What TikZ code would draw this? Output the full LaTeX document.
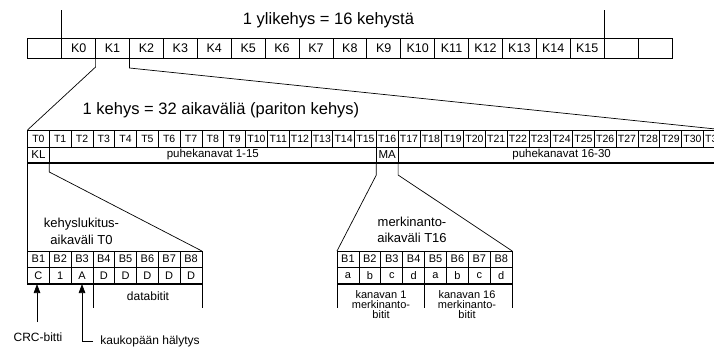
\documentclass[tikz,border=0pt]{standalone}
\usepackage{fontspec}
\setmainfont{Liberation Sans}
\usetikzlibrary{arrows.meta}
\begin{document}
\begin{tikzpicture}[x=1pt,y=-1pt,line width=0.7pt,
  cell/.style={draw,inner sep=0pt,outer sep=0pt,anchor=center},
  kcell/.style={cell,minimum width=33.9pt,minimum height=20pt,font=\fontsize{12.5}{14}\selectfont},
  tcell/.style={cell,minimum width=21.8pt,minimum height=17pt,font=\fontsize{10.5}{12}\selectfont},
  rcell/.style={cell,minimum height=16pt,font=\fontsize{11.5}{13}\selectfont},
  bcell/.style={cell,minimum width=21.8pt,minimum height=16pt,font=\fontsize{11}{12}\selectfont},
  vcell/.style={cell,minimum width=21.8pt,minimum height=17pt,font=\fontsize{11}{12}\selectfont},
  bigtext/.style={inner sep=0pt,font=\fontsize{16.5}{18}\selectfont},
  midtext/.style={inner sep=0pt,align=center,font=\fontsize{13}{16.5}\selectfont},
  smalltext/.style={inner sep=0pt,align=center,font=\fontsize{11}{10}\selectfont},
  labtext/.style={inner sep=0pt,font=\fontsize{12}{14}\selectfont},
  thickline/.style={line width=1.2pt},
  arr/.style={-{Triangle[length=9pt,width=6.5pt]}}
]
\useasboundingbox (0,0) rectangle (714,354);
\clip (0,0) rectangle (714,354);

% superframe row
\foreach \i in {0,...,18}{
  \pgfmathtruncatemacro\k{\i-1}
  \node[kcell] (kc\i) at ({27.8+33.9*(\i+0.5)},48) {\ifnum\i>0 \ifnum\i<17 K\k\fi\fi};
}
\coordinate (topL) at (kc1.north west |- 0,10);
\coordinate (topR) at (kc17.north west |- 0,10);
\draw (kc1.north west) -- (topL);
\draw (kc17.north west) -- (topR);
\node[bigtext] (title) at (328.5,20) {1 ylikehys = 16 kehystä};

% frame row
\foreach \j in {0,...,31}{
  \node[tcell] (t\j) at ({27.5+21.8*(\j+0.5)},138.5) {T\j};
}
\node[rcell,minimum width=21.8pt] (kl) at (38.4,155) {KL};
\node[rcell,minimum width=327pt] (p1) at (212.8,155) {puhekanavat 1-15};
\node[rcell,minimum width=21.8pt] (ma) at (387.2,155) {MA};
\node[rcell,minimum width=327pt] (p2) at (561.6,155) {puhekanavat 16-30};
\draw[thickline] (kl.south west) -- (p2.south east);
\node[bigtext] (sub) at (221,110) {1 kehys = 32 aikaväliä (pariton kehys)};

\draw (kc2.south west) -- ++(0,9) -- (t0.north west);
\draw (kc2.south east) -- ++(0,10) -- (t31.north east);

% T0 expansion
\foreach \j/\l in {1/C,2/1,3/A,4/D,5/D,6/D,7/D,8/D}{
  \node[bcell] (ba\j) at ({27.5+21.8*(\j-0.5)},259) {B\j};
  \node[vcell] (va\j) at ({27.5+21.8*(\j-0.5)},275.5) {\l};
}
\draw[thickline] (va1.south west) -- (va8.south east);
\draw (kl.south west) -- (ba1.north west);
\draw (kl.south east) -- ++(0,9) -- (ba8.north east);
\node[midtext] (klt) at (81.5,231.5) {kehyslukitus-\\[0.5pt]aikaväli T0};
\draw (va4.south west) -- ++(0,24);
\draw (va8.south east) -- ++(0,24);
\node[labtext] (data) at (148,296) {databitit};
\node[labtext] (crc) at (38,337) {CRC-bitti};
\coordinate (crcS) at (37,322);
\draw[arr] (crcS) -- (crcS |- va1.south);
\node[labtext,anchor=west] (kau) at (100,341) {kaukopään hälytys};
\draw[arr] ([xshift=-7pt]kau.west) -| (va3.south);

% T16 expansion
\foreach \j/\l in {1/a,2/b,3/c,4/d,5/a,6/b,7/c,8/d}{
  \node[bcell,minimum width=21.9pt] (bb\j) at ({337+21.9*(\j-0.5)},259) {B\j};
  \node[vcell,minimum width=21.9pt] (vb\j) at ({337+21.9*(\j-0.5)},275.5) {\l};
}
\draw[thickline] (vb1.south west) -- (vb8.south east);
\draw (ma.south west) -- ++(0,12) -- (bb1.north west);
\draw (ma.south east) -- ++(0,12) -- (bb8.north east);
\node[midtext] (mat) at (412,230) {merkinanto-\\[-0.5pt]aikaväli T16};
\draw (vb1.south west) -- ++(0,24);
\draw (vb5.south west) -- ++(0,24);
\draw (vb8.south east) -- ++(0,24);
\node[smalltext] (c1) at (381,305) {kanavan 1\\merkinanto-\\bitit};
\node[smalltext] (c16) at (467,305) {kanavan 16\\merkinanto-\\bitit};
\end{tikzpicture}
\end{document}
